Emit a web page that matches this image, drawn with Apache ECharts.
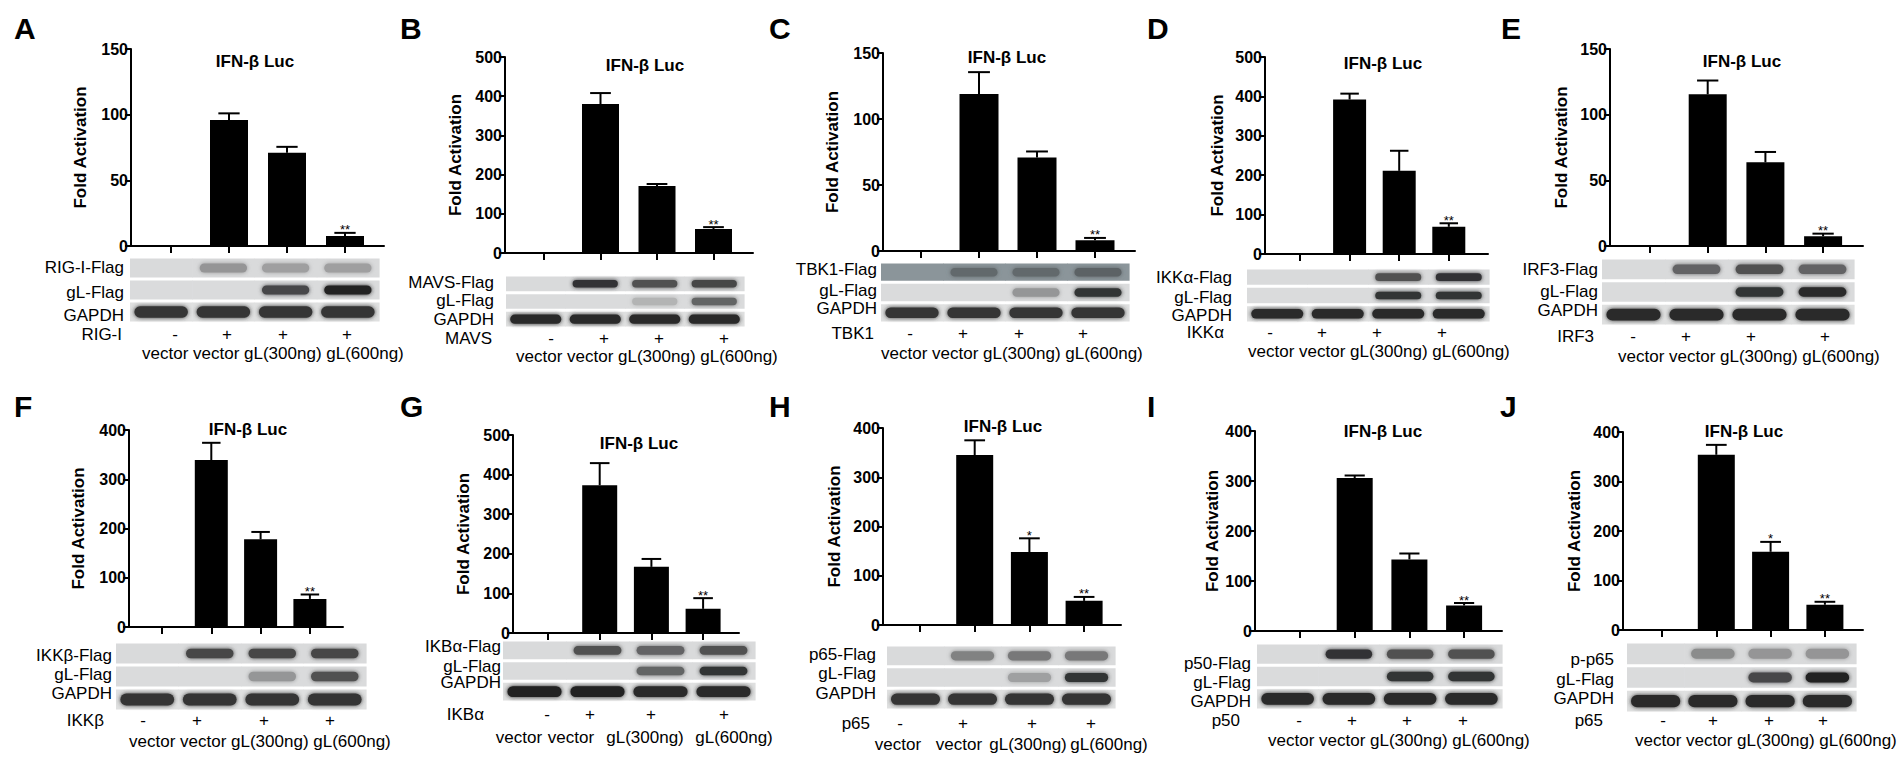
<!DOCTYPE html>
<html>
<head>
<meta charset="utf-8">
<title>IFN-β Luc</title>
<script src="https://cdn.jsdelivr.net/npm/echarts@6/dist/echarts.min.js"></script>
<style>
html, body { margin: 0; padding: 0; background: #fff; }
#chart { width: 1904px; height: 758px; }
</style>
</head>
<body>
<div id="chart"></div>
<script>
// ---- data ----
var panels = ['A', 'B', 'C', 'D', 'E', 'F', 'G', 'H', 'I', 'J'];
var conditions = ['vector', 'vector', 'gL(300ng)', 'gL(600ng)'];
var treatSigns = ['-', '+', '+', '+'];
var yMax = [150, 500, 150, 500, 150, 400, 500, 400, 400, 400];
var yStep = [50, 100, 50, 100, 50, 100, 100, 100, 100, 100];

var foldMean = [
	[0.8, 96, 71, 7.6],
	[1, 380, 171, 61],
	[0.8, 119, 70.8, 8.1],
	[1, 392, 211, 69],
	[0.5, 115.5, 63.7, 7.4],
	[1, 339, 178, 57],
	[1, 373, 167, 61],
	[1, 345, 148, 49],
	[1, 306, 143, 51],
	[1, 354, 158, 51]
];
// mean + error bar
var foldUpper = [
	[0.8, 101, 75.5, 10],
	[1, 408, 176, 66],
	[0.8, 135.5, 75.4, 9.9],
	[1, 407, 262, 78],
	[0.5, 126, 71.6, 9.4],
	[1, 374, 193, 66],
	[1, 429, 187, 88],
	[1, 375, 176, 57],
	[1, 311, 155, 56],
	[1, 374, 178, 57]
];
var sigMarks = [
	['', '', '', '**'],
	['', '', '', '**'],
	['', '', '', '**'],
	['', '', '', '**'],
	['', '', '', '**'],
	['', '', '', '**'],
	['', '', '', '**'],
	['', '', '*', '**'],
	['', '', '', '**'],
	['', '', '*', '**']
];
var stimulus = ['RIG-I', 'MAVS', 'TBK1', 'IKKα', 'IRF3', 'IKKβ', 'IKBα', 'p65', 'p50', 'p65'];
var blotRows = [
	['RIG-I-Flag', 'gL-Flag', 'GAPDH'],
	['MAVS-Flag', 'gL-Flag', 'GAPDH'],
	['TBK1-Flag', 'gL-Flag', 'GAPDH'],
	['IKKα-Flag', 'gL-Flag', 'GAPDH'],
	['IRF3-Flag', 'gL-Flag', 'GAPDH'],
	['IKKβ-Flag', 'gL-Flag', 'GAPDH'],
	['IKBα-Flag', 'gL-Flag', 'GAPDH'],
	['p65-Flag', 'gL-Flag', 'GAPDH'],
	['p50-Flag', 'gL-Flag', 'GAPDH'],
	['p-p65', 'gL-Flag', 'GAPDH']
];
// band darkness per lane (0 = no band)
var bandLevel = [
	[[0, .35, .3, .3], [0, 0, .75, .95], [.85, .85, .85, .85]],
	[[0, .85, .7, .75], [0, 0, .2, .6], [.9, .9, .9, .9]],
	[[0, .35, .35, .4], [0, 0, .35, .85], [.85, .85, .85, .85]],
	[[0, 0, .7, .85], [0, 0, .85, .85], [.9, .9, .9, .9]],
	[[0, .6, .7, .6], [0, 0, .85, .9], [.9, .9, .9, .9]],
	[[0, .75, .75, .75], [0, 0, .35, .7], [.85, .85, .85, .85]],
	[[0, .7, .6, .7], [0, 0, .6, .85], [.95, .95, .9, .9]],
	[[0, .45, .5, .5], [0, 0, .3, .85], [.85, .85, .85, .85]],
	[[0, .85, .7, .7], [0, 0, .85, .85], [.9, .9, .9, .9]],
	[[0, .4, .35, .35], [0, 0, .75, .95], [.9, .9, .9, .9]]
];

// ---- page layout (pixels) ----
var layout = [
	{lx: 14, ly: 28, ax: 131, top: 49, zero: 246, t0: 171, dt: 58, end: 384, bw: 38, tx: 255, ty: 61, nx: 80,
		blot: [130, 379, 257, 323], labX: 124, labY: [267, 292, 315], stimX: 122, stimY: 334, signX: [175, 227, 283, 347], condX: 142, condY: 353},
	{lx: 400, ly: 28, ax: 505, top: 57, zero: 253, t0: 544, dt: 56.5, end: 753, bw: 37, tx: 645, ty: 65, nx: 455,
		blot: [506, 744, 275, 328], labX: 494, labY: [282, 300, 319], stimX: 492, stimY: 338, signX: [551, 604, 659, 724], condX: 516, condY: 356},
	{lx: 769, ly: 28, ax: 883, top: 53, zero: 251, t0: 921, dt: 58, end: 1135, bw: 39, tx: 1007, ty: 57, nx: 832,
		blot: [881, 1129, 262, 323], labX: 877, labY: [269, 290, 308], stimX: 874, stimY: 333, signX: [910, 963, 1019, 1083], condX: 881, condY: 353},
	{lx: 1147, ly: 28, ax: 1265, top: 57, zero: 254, t0: 1300, dt: 49.6, end: 1488, bw: 33, tx: 1383, ty: 63, nx: 1217,
		blot: [1247, 1489, 268, 323], labX: 1232, labY: [277, 297, 315], stimX: 1224, stimY: 332, signX: [1270, 1322, 1377, 1442], condX: 1248, condY: 351},
	{lx: 1501, ly: 28, ax: 1610, top: 49, zero: 246, t0: 1650, dt: 57.7, end: 1863, bw: 38, tx: 1742, ty: 61, nx: 1561,
		blot: [1602, 1854, 258, 326], labX: 1598, labY: [269, 291, 310], stimX: 1594, stimY: 336, signX: [1633, 1686, 1751, 1825], condX: 1618, condY: 356},
	{lx: 14, ly: 406, ax: 129, top: 430, zero: 627, t0: 162, dt: 49.3, end: 343, bw: 33, tx: 248, ty: 429, nx: 78,
		blot: [116, 366, 642, 711], labX: 112, labY: [655, 674, 693], stimX: 104, stimY: 720, signX: [143, 197, 264, 330], condX: 129, condY: 741},
	{lx: 400, ly: 406, ax: 513, top: 435, zero: 633, t0: 548, dt: 51.7, end: 739, bw: 35, tx: 639, ty: 443, nx: 463,
		blot: [503, 755, 640, 702], labX: 501, labY: [646, 666, 682], stimX: 484, stimY: 714, signX: [547, 590, 651, 724], condX: [519, 571, 645, 734], condY: 737},
	{lx: 769, ly: 406, ax: 883, top: 428, zero: 625, t0: 920, dt: 54.7, end: 1121, bw: 37, tx: 1003, ty: 426, nx: 834,
		blot: [887, 1115, 645, 710], labX: 876, labY: [654, 673, 693], stimX: 870, stimY: 723, signX: [900, 963, 1032, 1091], condX: [898, 959, 1028, 1109], condY: 744},
	{lx: 1147, ly: 406, ax: 1255, top: 431, zero: 631, t0: 1300, dt: 54.7, end: 1502, bw: 36, tx: 1383, ty: 431, nx: 1214,
		blot: [1257, 1502, 643, 710], labX: 1251, labY: [663, 682, 701], stimX: 1240, stimY: 720, signX: [1299, 1352, 1407, 1463], condX: 1268, condY: 740},
	{lx: 1500, ly: 406, ax: 1623, top: 432, zero: 630, t0: 1662, dt: 54.3, end: 1863, bw: 37, tx: 1744, ty: 431, nx: 1574,
		blot: [1627, 1856, 642, 713], labX: 1614, labY: [659, 679, 698], stimX: 1603, stimY: 720, signX: [1663, 1713, 1769, 1823], condX: 1635, condY: 740}
];
var blotBg = ['#d9dadb', '#dadbdc', '#dfe0e0'];
var blotBgTBK1 = '#8b959a';

var FONT = '"Liberation Sans", Arial, Helvetica, sans-serif';

function shade(hex, level) {
	var n = parseInt(hex.slice(1), 16);
	var r = (n >> 16) & 255, g = (n >> 8) & 255, b = n & 255;
	var k = 22;
	return 'rgb(' + Math.round(r + (k - r) * level) + ',' + Math.round(g + (k - g) * level) + ',' + Math.round(b + (k - b) * level) + ')';
}

function errRenderer(p, bw) {
	return function (params, api) {
		var k = api.value(0), m = api.value(1), u = api.value(2);
		var base = api.coord([k, m]);
		var tip = api.coord([k, u]);
		var half = bw * 0.28;
		var kids = [];
		if (u > m) {
			kids.push({type: 'line', shape: {x1: base[0], y1: base[1], x2: tip[0], y2: tip[1]}, style: {stroke: '#000', lineWidth: 2}});
			kids.push({type: 'line', shape: {x1: tip[0] - half, y1: tip[1], x2: tip[0] + half, y2: tip[1]}, style: {stroke: '#000', lineWidth: 2}});
		}
		var mark = sigMarks[p][params.dataIndex];
		if (mark) {
			kids.push({type: 'text', x: tip[0], y: tip[1] - 3, style: {text: mark, font: '13px ' + FONT, fill: '#000', textAlign: 'center', textVerticalAlign: 'middle'}});
		}
		return {type: 'group', children: kids};
	};
}

function bandRenderer(p) {
	return function (params, api) {
		var lane = api.value(0), row = api.value(1), lv = api.value(2);
		var p0 = api.coord([lane, row]);
		var p1 = api.coord([lane + 1, row + 1]);
		var x = p0[0], y = p0[1], w = p1[0] - p0[0], h = p1[1] - p0[1];
		var bg = (p === 2 && row === 0) ? blotBgTBK1 : blotBg[row];
		var kids = [{type: 'rect', shape: {x: x, y: y + 1.5, width: w + 0.6, height: h - 3}, style: {fill: bg}}];
		if (lv > 0) {
			var bwid = w * (row === 2 ? 0.86 : 0.76);
			var bh = h * (row === 2 ? 0.52 : 0.42);
			var col = shade(bg, lv);
			kids.push({type: 'rect', shape: {x: x + (w - bwid) / 2, y: y + (h - bh) / 2, width: bwid, height: bh, r: bh / 2},
				style: {fill: col, shadowBlur: 4, shadowColor: col}});
		}
		return {type: 'group', children: kids};
	};
}

var grids = [], xAxes = [], yAxes = [], series = [], graphics = [];

function addText(str, x, y, font, align) {
	graphics.push({type: 'text', x: x, y: y, silent: true,
		style: {text: str, font: font, fill: '#000', textAlign: align || 'left', textVerticalAlign: 'middle'}});
}

panels.forEach(function (id, p) {
	var L = layout[p];

	// bar chart
	var gi = grids.length;
	grids.push({left: L.ax, top: L.top, width: L.end - L.ax, height: L.zero - L.top, containLabel: false, outerBoundsMode: 'none'});
	xAxes.push({
		gridIndex: gi, type: 'value',
		min: (L.ax - L.t0) / L.dt, max: (L.end - L.t0) / L.dt,
		axisLine: {onZero: false, lineStyle: {color: '#000', width: 2}},
		axisTick: {show: true, customValues: [0, 1, 2, 3], length: 7, lineStyle: {color: '#000', width: 2}},
		axisLabel: {show: false},
		splitLine: {show: false}
	});
	yAxes.push({
		gridIndex: gi, type: 'value', min: 0, max: yMax[p], interval: yStep[p],
		name: 'Fold Activation', nameLocation: 'middle', nameRotate: 90, nameGap: L.ax - L.nx - 9,
		nameTextStyle: {fontFamily: FONT, fontWeight: 'bold', fontSize: 17, color: '#000'},
		axisLine: {show: true, onZero: false, lineStyle: {color: '#000', width: 2}},
		axisTick: {show: true, length: 6, lineStyle: {color: '#000', width: 2}},
		axisLabel: {fontFamily: FONT, fontWeight: 'bold', fontSize: 16, color: '#000', margin: 3},
		splitLine: {show: false}
	});
	series.push({
		type: 'bar', xAxisIndex: gi, yAxisIndex: gi, barWidth: L.bw, silent: true, animation: false,
		itemStyle: {color: '#000'},
		data: foldMean[p].map(function (v, k) { return [k, v]; })
	});
	series.push({
		type: 'custom', xAxisIndex: gi, yAxisIndex: gi, silent: true, animation: false, clip: false,
		renderItem: errRenderer(p, L.bw),
		data: foldMean[p].map(function (v, k) { return [k, v, foldUpper[p][k]]; })
	});

	// western blot strip
	var bi = grids.length;
	grids.push({left: L.blot[0], top: L.blot[2], width: L.blot[1] - L.blot[0], height: L.blot[3] - L.blot[2], containLabel: false, outerBoundsMode: 'none'});
	xAxes.push({gridIndex: bi, type: 'value', min: 0, max: 4, show: false});
	yAxes.push({gridIndex: bi, type: 'value', min: 0, max: 3, inverse: true, show: false});
	var cells = [];
	bandLevel[p].forEach(function (row, r) {
		row.forEach(function (lv, k) { cells.push([k, r, lv]); });
	});
	series.push({type: 'custom', xAxisIndex: bi, yAxisIndex: bi, silent: true, animation: false,
		renderItem: bandRenderer(p), data: cells});

	// texts
	addText(id, L.lx, L.ly, 'bold 30px ' + FONT);
	addText('IFN-β Luc', L.tx, L.ty, 'bold 17px ' + FONT, 'center');
	blotRows[p].forEach(function (lab, r) {
		addText(lab, L.labX, L.labY[r], '17px ' + FONT, 'right');
	});
	addText(stimulus[p], L.stimX, L.stimY, '17px ' + FONT, 'right');
	treatSigns.forEach(function (s, k) {
		addText(s, L.signX[k], L.stimY, '17px ' + FONT, 'center');
	});
	if (Array.isArray(L.condX)) {
		conditions.forEach(function (c, k) {
			addText(c, L.condX[k], L.condY, '17px ' + FONT, 'center');
		});
	} else {
		addText(conditions.join(' '), L.condX, L.condY, '17px ' + FONT, 'left');
	}
});

var chart = echarts.init(document.getElementById('chart'), null, {renderer: 'svg'});
var option = {
	animation: false,
	backgroundColor: '#fff',
	grid: grids,
	xAxis: xAxes,
	yAxis: yAxes,
	series: series,
	graphic: {elements: graphics}
};
chart.setOption(option);
</script>
</body>
</html>
